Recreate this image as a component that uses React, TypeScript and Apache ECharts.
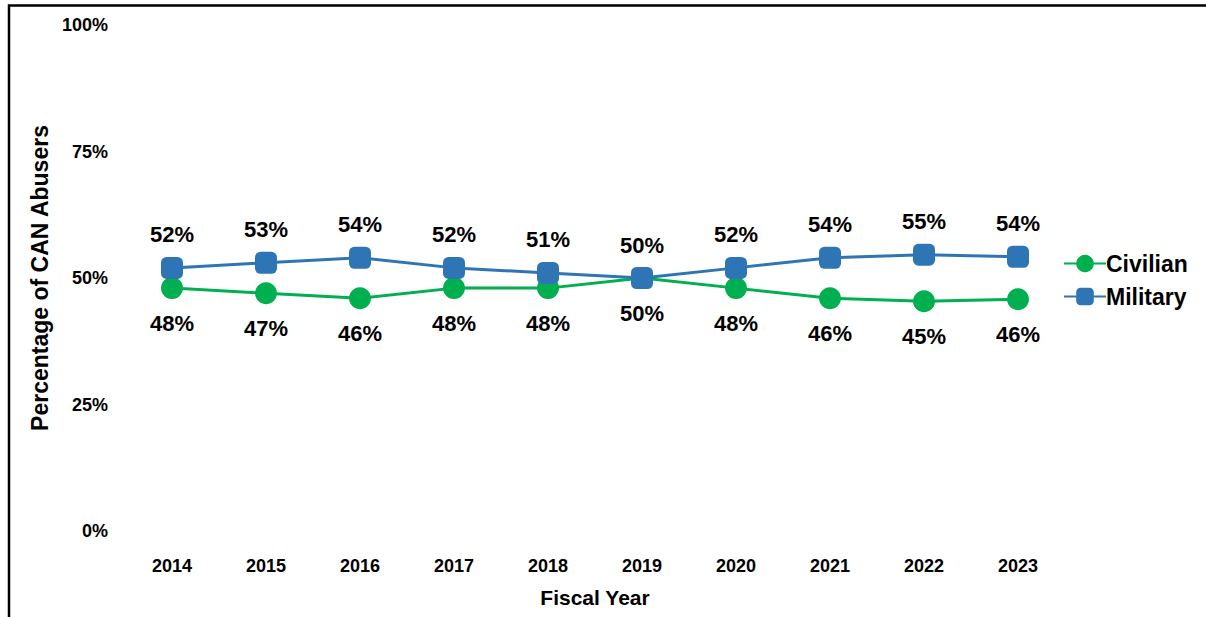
import React, { useEffect, useRef } from "react";
import * as echarts from "echarts";

const years = ["2014", "2015", "2016", "2017", "2018", "2019", "2020", "2021", "2022", "2023"];
const civilian = [48, 47, 46, 48, 48, 50, 48, 46, 45.4, 45.8];
const military = [52, 53, 54, 52, 51, 50, 52, 54, 54.6, 54.2];
const yTicks = [0, 25, 50, 75, 100];

const FONT = "Arial, 'Liberation Sans', sans-serif";

export default function App() {
  const ref = useRef<HTMLDivElement>(null);
  useEffect(() => {
    if (!ref.current) return;
    const chart = echarts.init(ref.current, undefined, { renderer: "svg" });
    chart.setOption({
      animation: false,
      backgroundColor: "#fff",
      textStyle: { fontFamily: FONT },
      graphic: [
        {
          type: "rect",
          shape: { x: 9, y: 5.5, width: 1400, height: 800 },
          style: { fill: "none", stroke: "#000", lineWidth: 2.5 },
          silent: true,
        },
      ],
      grid: { left: 125, right: 141, top: 25, bottom: 86 },
      legend: {
        orient: "vertical",
        left: 1058,
        top: 247,
        itemWidth: 42,
        itemHeight: 22,
        itemGap: 10,
        textStyle: { fontSize: 23, fontWeight: "bold", color: "#000", fontFamily: FONT, padding: [0, 0, 0, -5] },
        data: ["Civilian", "Military"],
      },
      xAxis: {
        type: "category",
        data: years,
        boundaryGap: true,
        axisLine: { show: false },
        axisTick: { show: false },
        axisLabel: { color: "#000", fontSize: 18, fontWeight: "bold", margin: 26, fontFamily: FONT },
        name: "Fiscal Year",
        nameLocation: "middle",
        nameGap: 56,
        nameTextStyle: { color: "#000", fontSize: 21, fontWeight: "bold", fontFamily: FONT },
      },
      yAxis: {
        type: "value",
        min: yTicks[0],
        max: yTicks[yTicks.length - 1],
        interval: 25,
        splitLine: { show: false },
        axisLine: { show: false },
        axisTick: { show: false },
        axisLabel: { color: "#000", fontSize: 18, fontWeight: "bold", margin: 17, formatter: "{value}%", fontFamily: FONT },
        name: "Percentage of CAN Abusers",
        nameLocation: "middle",
        nameGap: 73,
        nameTextStyle: { color: "#000", fontSize: 23, fontWeight: "bold", fontFamily: FONT },
      },
      series: [
        {
          name: "Civilian",
          type: "line",
          data: civilian,
          symbol: "circle",
          symbolSize: 22,
          itemStyle: { color: "#00B050" },
          lineStyle: { color: "#00B050", width: 3 },
          label: {
            show: true,
            position: "bottom",
            distance: 13,
            fontSize: 22,
            fontWeight: "bold",
            color: "#000",
            fontFamily: FONT,
            formatter: (p: any) => Math.round(p.value) + "%",
          },
        },
        {
          name: "Military",
          type: "line",
          data: military,
          symbol: "roundRect",
          symbolSize: 22,
          itemStyle: { color: "#2E75B6" },
          lineStyle: { color: "#2E75B6", width: 3 },
          label: {
            show: true,
            position: "top",
            distance: 11,
            fontSize: 22,
            fontWeight: "bold",
            color: "#000",
            fontFamily: FONT,
            formatter: (p: any) => Math.round(p.value) + "%",
          },
        },
      ],
    });
    return () => chart.dispose();
  }, []);
  return (
    <div
      ref={ref}
      style={{ position: "fixed", left: 0, top: 0, width: 1206, height: 617 }}
    />
  );
}
